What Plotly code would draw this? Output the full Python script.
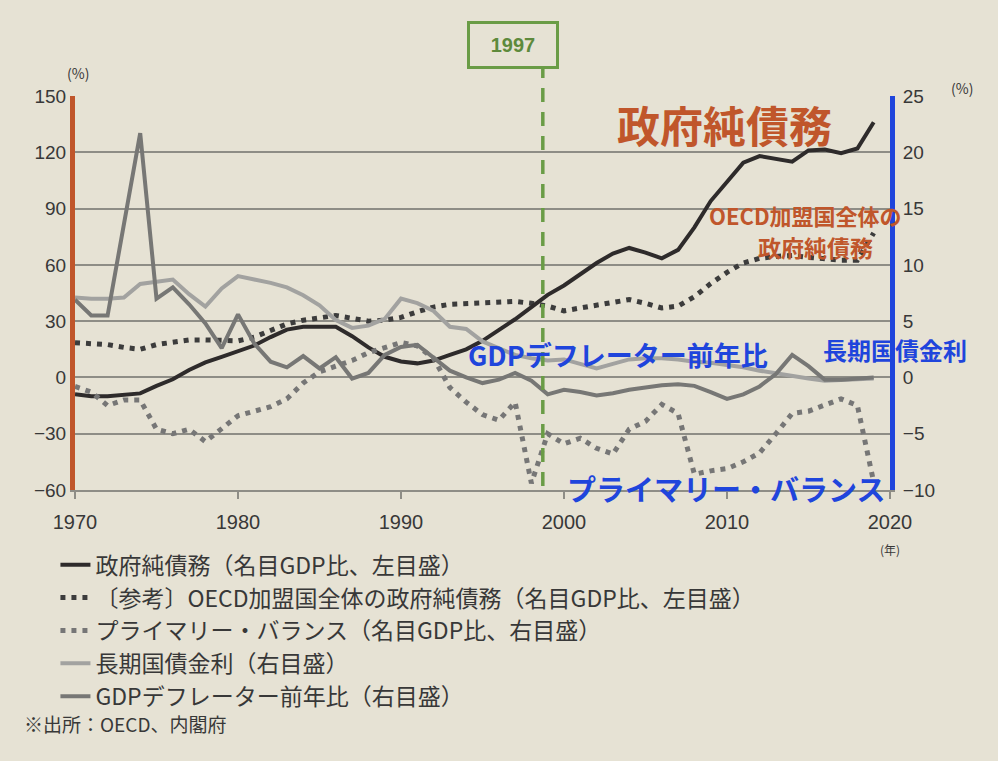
import plotly.graph_objects as go

years = list(range(1970, 2020))

net_debt = [-9, -10, -10, -9.5, -8.5, -4.5, -1, 4, 8, 11,
            14, 17, 21.5, 25.5, 27, 27, 27, 22, 16, 11,
            8.5, 7.5, 9, 12, 15, 19.5, 25, 31, 37.5, 44,
            49, 55, 61, 66, 69, 66.5, 63.5, 68, 80, 94,
            104, 114.5, 118, 116.5, 115, 121, 121.5, 119.5, 122, 136]

oecd_net_debt = [18.5, 18, 17.5, 16, 15, 17.5, 19, 20, 20, 20,
                 19.5, 21.5, 25, 28.5, 30.5, 32, 33, 31.5, 30, 30.5,
                 32, 35, 37.5, 39, 39.5, 39.5, 40, 40.5, 39.5, 38,
                 35.5, 37, 38, 39.5, 41.5, 39.5, 37, 38, 43, 50,
                 56, 61, 63.5, 64.5, 65, 64, 63, 62.5, 62.5, 77]

primary_balance = [-0.8, -1.3, -2.5, -2.0, -2.0, -4.6, -5.0, -4.6, -5.7, -4.5,
                   -3.4, -3.0, -2.6, -1.9, -0.5, 0.5, 1.0, 1.5, 2.2, 2.7,
                   3.1, 2.8, 1.7, -0.9, -2.2, -3.3, -3.8, -2.2, -9.4, -5.0,
                   -5.9, -5.4, -6.3, -6.8, -4.6, -3.9, -2.4, -3.2, -8.6, -8.3,
                   -8.1, -7.5, -6.7, -5.0, -3.2, -3.0, -2.4, -1.9, -2.5, -9.3]

long_rate = [7.1, 7.0, 7.0, 7.1, 8.3, 8.5, 8.7, 7.4, 6.3, 7.9,
             9.0, 8.7, 8.4, 8.0, 7.3, 6.4, 5.1, 4.4, 4.6, 5.2,
             7.0, 6.6, 5.9, 4.5, 4.3, 3.2, 2.6, 2.0, 1.7, 1.5,
             1.6, 1.2, 0.8, 1.2, 1.6, 1.7, 1.7, 1.6, 1.4, 1.3,
             1.1, 0.9, 0.6, 0.35, 0.1, -0.1, -0.3, -0.25, -0.2, -0.1]

gdp_deflator = [6.9, 5.5, 5.5, 13.5, 21.7, 7.0, 8.0, 6.5, 4.8, 2.6,
                5.6, 3.0, 1.4, 0.9, 1.9, 0.8, 1.8, -0.1, 0.4, 2.0,
                2.7, 2.9, 1.8, 0.6, 0.0, -0.5, -0.2, 0.4, -0.3, -1.5,
                -1.1, -1.3, -1.6, -1.4, -1.1, -0.9, -0.7, -0.6, -0.75, -1.3,
                -1.9, -1.5, -0.8, 0.3, 2.0, 1.0, -0.2, -0.2, -0.1, 0.0]

left_ticks = [-60, -30, 0, 30, 60, 90, 120, 150]
right_ticks = [-10, -5, 0, 5, 10, 15, 20, 25]
x_ticks = [1970, 1980, 1990, 2000, 2010, 2020]
marker_year = 1998.7
marker_label = "1997"

legend_names = [
    "政府純債務（名目GDP比、左目盛）",
    "〔参考〕OECD加盟国全体の政府純債務（名目GDP比、左目盛）",
    "プライマリー・バランス（名目GDP比、右目盛）",
    "長期国債金利（右目盛）",
    "GDPデフレーター前年比（右目盛）",
]

JP = "Noto Sans CJK JP"
NUM = "Liberation Sans, Arial, sans-serif"
BG = "#e6e2d4"
ORANGE = "#c0562b"
BLUE = "#1f45dc"
GREEN = "#6a9c46"
GRID = "#8e8d86"

fig = go.Figure()

fig.add_trace(go.Scatter(x=years, y=primary_balance, yaxis="y2", mode="lines",
                         name=legend_names[2], legendrank=3,
                         line=dict(color="#767676", width=5, dash="5px,6px")))
fig.add_trace(go.Scatter(x=years, y=long_rate, yaxis="y2", mode="lines",
                         name=legend_names[3], legendrank=4,
                         line=dict(color="#a2a2a0", width=4)))
fig.add_trace(go.Scatter(x=years, y=gdp_deflator, yaxis="y2", mode="lines",
                         name=legend_names[4], legendrank=5,
                         line=dict(color="#777775", width=4)))
fig.add_trace(go.Scatter(x=years, y=oecd_net_debt, yaxis="y", mode="lines",
                         name=legend_names[1], legendrank=2,
                         line=dict(color="#3c3c3c", width=5, dash="5px,6px")))
fig.add_trace(go.Scatter(x=years, y=net_debt, yaxis="y", mode="lines",
                         name=legend_names[0], legendrank=1,
                         line=dict(color="#2e2b2b", width=4)))

fig.update_layout(
    width=998, height=761,
    paper_bgcolor=BG, plot_bgcolor=BG,
    margin=dict(l=75, r=108, t=96, b=271),
    font=dict(family=NUM, color="#383838"),
    showlegend=True,
    legend=dict(x=-0.024, y=-0.135, xanchor="left", yanchor="top",
                orientation="v", bgcolor="rgba(0,0,0,0)",
                font=dict(family=JP, size=23, color="#383838"),
                itemwidth=30, tracegroupgap=0),
    xaxis=dict(range=[1970, 2020], tickvals=x_ticks, showgrid=False,
               zeroline=False, showline=True, linecolor=GRID, linewidth=1.5,
               ticks="outside", ticklen=7, tickcolor=GRID, tickwidth=1.5,
               ticklabelstandoff=6,
               tickfont=dict(family=NUM, size=20, color="#383838")),
    yaxis=dict(range=[-60, 150], tickvals=left_ticks, showgrid=True,
               gridcolor=GRID, gridwidth=1.5, zeroline=False,
               showline=True, linecolor=ORANGE, linewidth=5,
               tickfont=dict(family=NUM, size=19, color="#383838")),
    yaxis2=dict(range=[-10, 25], tickvals=right_ticks, overlaying="y",
                side="right", showgrid=False, zeroline=False,
                showline=True, linecolor=BLUE, linewidth=5,
                ticklabelstandoff=4,
                tickfont=dict(family=NUM, size=19, color="#383838")),
)

# 1997 marker line
fig.add_shape(type="line", xref="x", yref="paper", x0=marker_year, x1=marker_year,
              y0=0.01, y1=1.071, line=dict(color=GREEN, width=3.5, dash="14px,10px"))
fig.add_annotation(xref="paper", yref="paper", x=0.537, y=1.129,
                   text=f"<b>{marker_label}</b>", showarrow=False,
                   font=dict(family=NUM, size=20, color="#5e8a3c"),
                   bordercolor=GREEN, borderwidth=3, width=84, height=40,
                   xanchor="center", yanchor="middle")

# series labels
def label(text, x, y, size, color, xanchor="center"):
    fig.add_annotation(xref="paper", yref="paper", x=x, y=y, text=f"<b>{text}</b>",
                       showarrow=False, xanchor=xanchor, yanchor="middle",
                       font=dict(family=JP, size=size, color=color))

label("政府純債務", 0.7975, 0.929, 43, ORANGE)
label("OECD加盟国全体の", 0.896, 0.698, 22, ORANGE)
label("政府純債務", 0.908, 0.617, 23, ORANGE)
label("GDPデフレーター前年比", 0.666, 0.345, 27, BLUE)
label("長期国債金利", 1.006, 0.357, 24, BLUE)
label("プライマリー・バランス", 0.799, 0.005, 29, BLUE)

# units
def small(text, x, y, size=14, xanchor="center"):
    fig.add_annotation(xref="paper", yref="paper", x=x, y=y, text=text,
                       showarrow=False, xanchor=xanchor, yanchor="middle",
                       font=dict(family=JP, size=size, color="#383838"))

small("(%)", 0.004, 1.058)
small("(%)", 1.088, 1.02)
small("(年)", 1.0, -0.152, 12)
small("※出所：OECD、内閣府", -0.065, -0.592, 19, "left")

fig.write_html("out.html",
               config={"displayModeBar": False},
               post_script="document.body.style.margin='0px';"
                           "document.body.style.background='#e6e2d4';")
